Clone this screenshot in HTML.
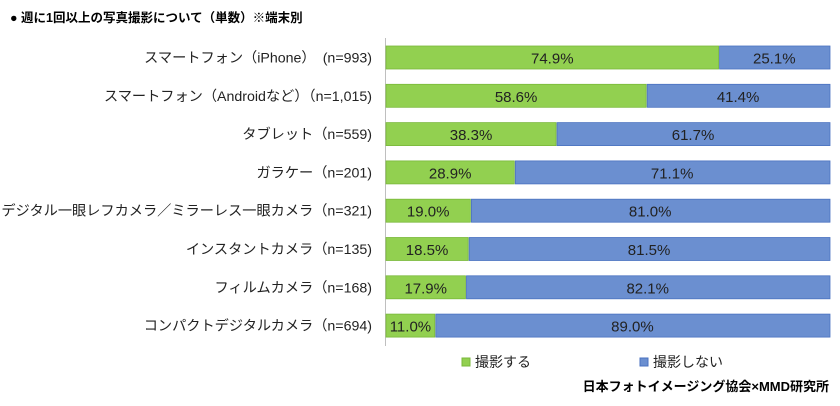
<!DOCTYPE html>
<html><head><meta charset="utf-8"><style>
body{margin:0;background:#fff;font-family:"Liberation Sans","Noto Sans CJK JP",sans-serif;}
#c{position:relative;width:840px;height:406px;overflow:hidden;}
</style></head><body>
<div id="c">
<svg id="s" width="840" height="406" xmlns="http://www.w3.org/2000/svg">
<text x="10" y="22" font-size="12.5" font-weight="bold" fill="#000" font-family="Liberation Sans, Noto Sans CJK JP, sans-serif">●  週に1回以上の写真撮影について（単数）※端末別</text>
<line x1="385.5" y1="38" x2="385.5" y2="346" stroke="#bfbfbf" stroke-width="1"/>
<g id="bars"></g>
<rect x="462" y="358" width="8" height="8" fill="#92d050" stroke="#7ab83a"/>
<text x="475" y="367" font-size="14" fill="#222" font-family="Liberation Sans, Noto Sans CJK JP, sans-serif">撮影する</text>
<rect x="640" y="358" width="8" height="8" fill="#6b8fd0" stroke="#4a72c0"/>
<text x="653" y="367" font-size="14" fill="#222" font-family="Liberation Sans, Noto Sans CJK JP, sans-serif">撮影しない</text>
<text x="829" y="391" font-size="13" font-weight="bold" text-anchor="end" fill="#000" font-family="Liberation Sans, Noto Sans CJK JP, sans-serif">日本フォトイメージング協会×MMD研究所</text>
</svg>
</div>
<script>
const categories=["スマートフォン（iPhone）　(n=993)","スマートフォン（Androidなど）（n=1,015)","タブレット（n=559)","ガラケー（n=201)","デジタル一眼レフカメラ／ミラーレス一眼カメラ（n=321)","インスタントカメラ（n=135)","フィルムカメラ（n=168)","コンパクトデジタルカメラ（n=694)"];
const yesValues=[74.9,58.6,38.3,28.9,19.0,18.5,17.9,11.0];
const noValues=[25.1,41.4,61.7,71.1,81.0,81.5,82.1,89.0];
const NS="http://www.w3.org/2000/svg";
const x0=386,plotW=444,top0=46,pitch=38.3,bh=23;
const xs=v=>x0+v/100*plotW;
const ys=i=>top0+i*pitch;
const g=document.getElementById('bars');
function mk(t,a){const e=document.createElementNS(NS,t);for(const k in a)e.setAttribute(k,a[k]);g.appendChild(e);return e;}
categories.forEach((c,i)=>{
 const y=ys(i);
 const lab=mk('text',{x:372,y:y+bh/2+5,'font-size':14.2,'text-anchor':'end',fill:'#222','font-family':'Liberation Sans, Noto Sans CJK JP, sans-serif'});
 lab.textContent=c;
 
 
 const xe=xs(yesValues[i]);
 const r1=mk('rect',{x:x0,y:y,width:xe-x0,height:bh,fill:'#92d050',stroke:'#7ab83a','stroke-width':0.8});
 
 
 const xe2=xs(yesValues[i]+noValues[i]);
 const r2=mk('rect',{x:xe+1,y:y,width:xe2-xe-1,height:bh,fill:'#6b8fd0',stroke:'#4a72c0','stroke-width':0.8});
 
 
 const t1=mk('text',{x:(x0+xe)/2,y:y+bh/2+6,'font-size':15,'text-anchor':'middle',fill:'#222','font-family':'Liberation Sans, sans-serif'});
 t1.textContent=yesValues[i].toFixed(1)+'%';
 
 
 const t2=mk('text',{x:(xe+xe2)/2,y:y+bh/2+6,'font-size':15,'text-anchor':'middle',fill:'#222','font-family':'Liberation Sans, sans-serif'});
 t2.textContent=noValues[i].toFixed(1)+'%';
 
 
});
</script>
</body></html>
